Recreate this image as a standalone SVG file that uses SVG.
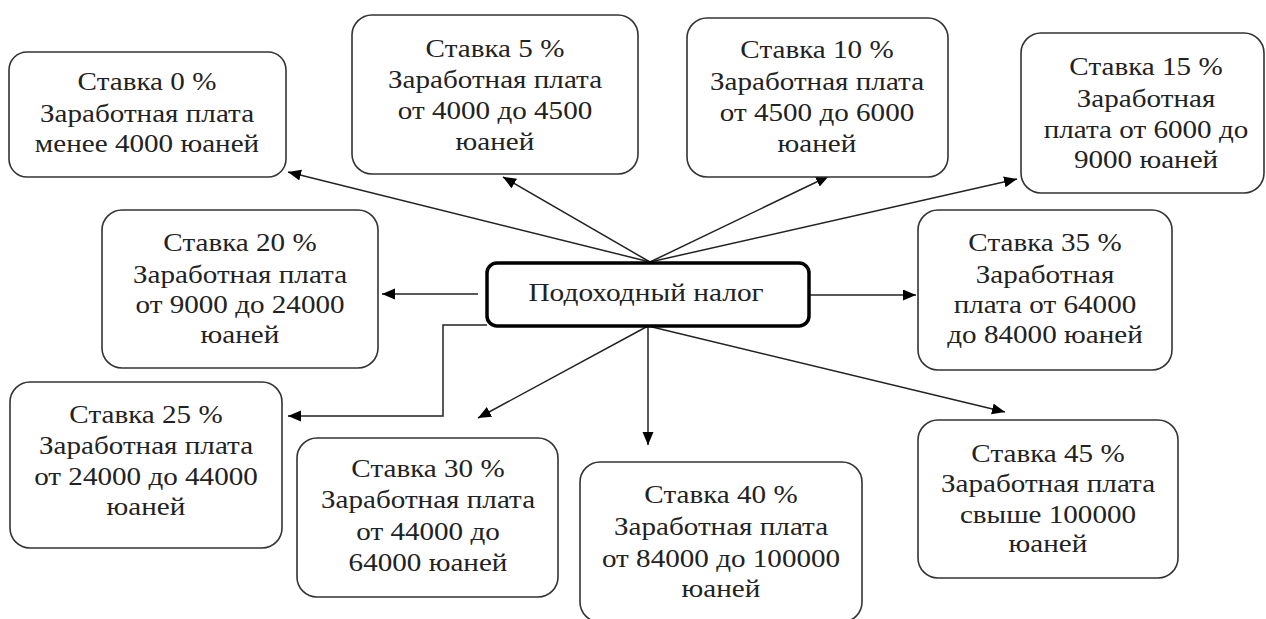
<svg xmlns="http://www.w3.org/2000/svg" width="1266" height="619" viewBox="0 0 1266 619">
<style>
.box{fill:#fff;stroke:#333;stroke-width:1.6}
.main{fill:#fff;stroke:#000;stroke-width:3.5}
.t{font-family:'Liberation Serif','DejaVu Serif',serif;font-size:26px;fill:#222;text-anchor:middle}
.conn{fill:none;stroke:#222;stroke-width:1.5;marker-end:url(#ah)}
</style>
<defs>
<marker id="ah" markerUnits="userSpaceOnUse" markerWidth="14" markerHeight="12" refX="13" refY="5.5" orient="auto">
<path d="M0,0 L13,5.5 L0,11 z" fill="#000"/>
</marker>
</defs>
<rect width="1266" height="619" fill="#fff"/>
<g id="connectors">
<line class="conn" x1="650" y1="262" x2="288" y2="172"/>
<line class="conn" x1="650" y1="262" x2="503" y2="177"/>
<line class="conn" x1="650" y1="262" x2="829" y2="176"/>
<line class="conn" x1="650" y1="262" x2="1017" y2="179"/>
<line class="conn" x1="478" y1="294" x2="382" y2="294"/>
<line class="conn" x1="810" y1="295" x2="916" y2="295"/>
<polyline class="conn" points="487,325 443,325 443,416 288,416"/>
<line class="conn" x1="648" y1="326" x2="478" y2="418"/>
<line class="conn" x1="648" y1="326" x2="648" y2="445"/>
<line class="conn" x1="648" y1="326" x2="1005" y2="412"/>
</g>
<g id="n0" class="t"><rect class="box" x="9" y="52" width="277" height="125" rx="18"/>
<g transform="translate(147 0) scale(1.12 1)"><text x="0" y="90">Ставка 0 %</text><text x="0" y="122">Заработная плата</text><text x="0" y="152">менее 4000 юаней</text></g></g>
<g id="n5" class="t"><rect class="box" x="352" y="15" width="286" height="159" rx="20"/>
<g transform="translate(495 0) scale(1.12 1)"><text x="0" y="57">Ставка 5 %</text><text x="0" y="88">Заработная плата</text><text x="0" y="119">от 4000 до 4500</text><text x="0" y="150">юаней</text></g></g>
<g id="n10" class="t"><rect class="box" x="687" y="18" width="261" height="159" rx="20"/>
<g transform="translate(817 0) scale(1.12 1)"><text x="0" y="58">Ставка 10 %</text><text x="0" y="90">Заработная плата</text><text x="0" y="121">от 4500 до 6000</text><text x="0" y="152">юаней</text></g></g>
<g id="n15" class="t"><rect class="box" x="1021" y="33" width="243" height="160" rx="20"/>
<g transform="translate(1146 0) scale(1.12 1)"><text x="0" y="75">Ставка 15 %</text><text x="0" y="107">Заработная</text><text x="0" y="138">плата от 6000 до</text><text x="0" y="168">9000 юаней</text></g></g>
<g id="n20" class="t"><rect class="box" x="102" y="210" width="276" height="158" rx="20"/>
<g transform="translate(240 0) scale(1.12 1)"><text x="0" y="251">Ставка 20 %</text><text x="0" y="283">Заработная плата</text><text x="0" y="313">от 9000 до 24000</text><text x="0" y="343">юаней</text></g></g>
<g id="center" class="t"><rect class="main" x="487" y="263" width="322" height="63" rx="10"/>
<g transform="translate(646 0) scale(1.13 1)"><text x="0" y="301">Подоходный налог</text></g></g>
<g id="n35" class="t"><rect class="box" x="918" y="210" width="254" height="160" rx="20"/>
<g transform="translate(1045 0) scale(1.12 1)"><text x="0" y="251">Ставка 35 %</text><text x="0" y="283">Заработная</text><text x="0" y="313">плата от 64000</text><text x="0" y="343">до 84000 юаней</text></g></g>
<g id="n25" class="t"><rect class="box" x="10" y="382" width="272" height="166" rx="20"/>
<g transform="translate(146 0) scale(1.12 1)"><text x="0" y="423">Ставка 25 %</text><text x="0" y="454">Заработная плата</text><text x="0" y="485">от 24000 до 44000</text><text x="0" y="515">юаней</text></g></g>
<g id="n30" class="t"><rect class="box" x="297" y="438" width="261" height="159" rx="20"/>
<g transform="translate(428 0) scale(1.12 1)"><text x="0" y="477">Ставка 30 %</text><text x="0" y="508">Заработная плата</text><text x="0" y="540">от 44000 до</text><text x="0" y="571">64000 юаней</text></g></g>
<g id="n40" class="t"><rect class="box" x="580" y="462" width="282" height="160" rx="20"/>
<g transform="translate(721 0) scale(1.12 1)"><text x="0" y="503">Ставка 40 %</text><text x="0" y="535">Заработная плата</text><text x="0" y="567">от 84000 до 100000</text><text x="0" y="597">юаней</text></g></g>
<g id="n45" class="t"><rect class="box" x="918" y="420" width="260" height="158" rx="20"/>
<g transform="translate(1048 0) scale(1.12 1)"><text x="0" y="462">Ставка 45 %</text><text x="0" y="492">Заработная плата</text><text x="0" y="523">свыше 100000</text><text x="0" y="552">юаней</text></g></g>
</svg>
